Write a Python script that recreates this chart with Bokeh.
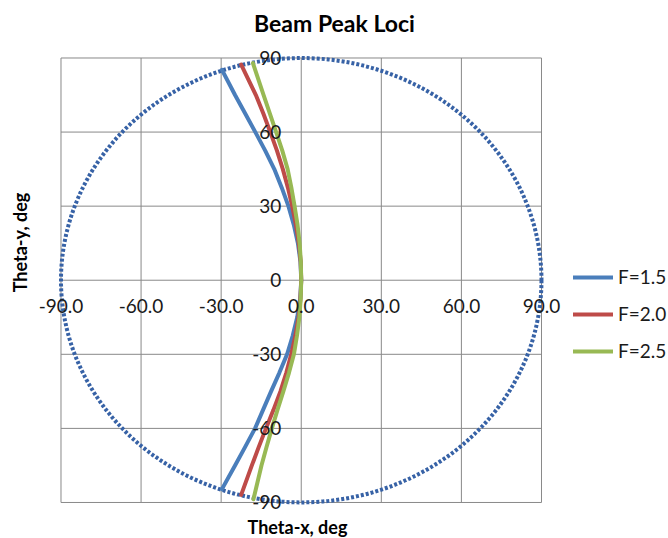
from bokeh.plotting import figure
from bokeh.models import Range1d, Label
from bokeh.core.properties import value
from bokeh.embed import file_html
from bokeh.resources import INLINE

# ---------------- data ----------------
title_text = "Beam Peak Loci"
x_title = "Theta-x, deg"
y_title = "Theta-y, deg"

x_ticks = [-90, -60, -30, 0, 30, 60, 90]
x_tick_labels = ["-90.0", "-60.0", "-30.0", "0.0", "30.0", "60.0", "90.0"]
y_ticks = [-90, -60, -30, 0, 30, 60, 90]
y_tick_labels = ["-90", "-60", "-30", "0", "30", "60", "90"]

scan_limit = 90  # radius of the dotted boundary circle, deg

series_names = ["F=1.5", "F=2.0", "F=2.5"]

ty_f15 = [-84.6, -75, -67.5, -60, -52.5, -45, -37.5, -30, -22.5, -15, -7.5, 0,
          7.5, 15, 22.5, 30, 37.5, 45, 52.5, 60, 67.5, 75, 85.2]
tx_f15 = [-29.7, -24.8, -21.0, -17.3, -14.3, -11.3, -8.2, -5.3, -3.2, -1.5, -0.4, 0,
          -0.3, -1.25, -2.8, -4.8, -7.3, -10.1, -13.5, -17.2, -21.0, -24.8, -29.7]

ty_f20 = [-86.9, -75, -67.5, -60, -52.5, -45, -37.5, -30, -22.5, -15, -7.5, 0,
          7.5, 15, 22.5, 30, 37.5, 45, 52.5, 60, 67.5, 75, 87.3]
tx_f20 = [-22.5, -18.5, -15.9, -13.2, -10.4, -7.8, -5.6, -3.75, -2.2, -1.0, -0.3, 0,
          -0.2, -0.9, -2.0, -3.4, -5.0, -6.9, -9.1, -11.6, -14.2, -17.0, -22.5]

ty_f25 = [-88.7, -75, -67.5, -60, -52.5, -45, -37.5, -30, -22.5, -15, -7.5, 0,
          7.5, 15, 22.5, 30, 37.5, 45, 52.5, 60, 67.5, 75, 87.9]
tx_f25 = [-17.9, -14.9, -13.0, -11.0, -8.9, -6.7, -4.6, -2.75, -1.6, -0.7, -0.2, 0,
          -0.15, -0.6, -1.4, -2.5, -3.7, -5.1, -7.1, -9.4, -11.75, -14.1, -18.1]

series_x = [tx_f15, tx_f20, tx_f25]
series_y = [ty_f15, ty_f20, ty_f25]
series_colors = ["#4A7EBB", "#BE4B48", "#98B954"]

# ---------------- figure ----------------
W, H = 668, 538
p = figure(width=W, height=H, output_backend="svg", toolbar_location=None,
           title=None, x_axis_location=None, y_axis_location=None,
           min_border=0, min_border_left=0, min_border_right=0,
           min_border_top=0, min_border_bottom=0,
           x_range=Range1d(-112.66, 137.58), y_range=Range1d(-104.59, 113.28))
p.outline_line_color = None
p.background_fill_color = "white"
p.border_fill_color = "white"
p.xgrid.visible = False
p.ygrid.visible = False

grid_color = "#898989"
n = len(x_ticks)
# vertical grid lines
p.segment(x0=x_ticks, y0=[min(y_ticks)] * n, x1=x_ticks, y1=[max(y_ticks)] * n,
          line_color=grid_color, line_width=1)
# horizontal grid lines
m = len(y_ticks)
p.segment(x0=[min(x_ticks)] * m, y0=y_ticks, x1=[max(x_ticks)] * m, y1=y_ticks,
          line_color=grid_color, line_width=1)

# dotted boundary circle
p.ellipse(x=[0], y=[0], width=[2 * scan_limit], height=[2 * scan_limit],
          fill_color=None, line_color="#3762A6", line_width=4, line_dash="3 2")

# beam peak loci
for xs, ys, c, name in zip(series_x, series_y, series_colors, series_names):
    p.line(xs, ys, line_color=c, line_width=4, line_join="round", line_cap="round",
           legend_label=name)

# tick labels
tick_font = value("Lato")
p.text(x=x_ticks, y=[0] * n, text=x_tick_labels, y_offset=26,
       text_align="center", text_baseline="middle",
       text_font=tick_font, text_font_size="19px", text_color="#1a1a1a")
p.text(x=[0] * m, y=y_ticks, text=y_tick_labels, x_offset=-20,
       text_align="right", text_baseline="middle",
       text_font=tick_font, text_font_size="19px", text_color="#1a1a1a")

# titles
p.add_layout(Label(x=334, y=H - 22, x_units="screen", y_units="screen", text=title_text,
                   text_align="center", text_baseline="middle",
                   text_font="Lato", text_font_style="bold", text_font_size="23px",
                   text_color="#000000"))
p.add_layout(Label(x=297, y=12, x_units="screen", y_units="screen", text=x_title,
                   text_align="center", text_baseline="middle",
                   text_font="Lato", text_font_style="bold", text_font_size="18px",
                   text_color="#000000"))
p.add_layout(Label(x=19, y=H - 242, x_units="screen", y_units="screen", text=y_title,
                   angle=1.5707963, text_align="center", text_baseline="middle",
                   text_font="Lato", text_font_style="bold", text_font_size="18px",
                   text_color="#000000"))

# legend
lg = p.legend[0]
lg.location = (573, 176)
lg.padding = 0
lg.margin = 0
lg.spacing = 14
lg.glyph_width = 40
lg.glyph_height = 20
lg.label_height = 20
lg.label_standoff = 5
lg.border_line_color = None
lg.background_fill_alpha = 0
lg.label_text_font = "Lato"
lg.label_text_font_size = "19px"
lg.label_text_color = "#1a1a1a"

open("out.html", "w").write(file_html(p, INLINE))
